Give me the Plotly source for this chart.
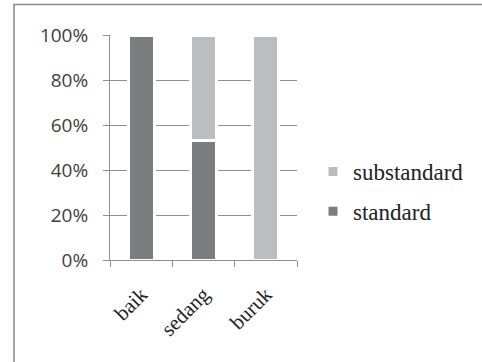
import plotly.graph_objects as go

categories = ["baik", "sedang", "buruk"]
standard = [1.00, 0.53, 0.00]
substandard = [0.00, 0.47, 1.00]

W, H = 482, 362
L, R, T, B = 110, 185, 35, 102
pw, ph = W - L - R, H - T - B

axis_grey = "#8f8f8f"
dark_bar = "#7b7d81"
light_bar = "#bcbdc0"

fig = go.Figure()
fig.add_trace(go.Bar(
    x=categories, y=standard, name="standard",
    legendgroup="g2", legendrank=2,
    marker=dict(color=dark_bar, line=dict(color="white", width=3)),
    width=0.42,
))
fig.add_trace(go.Bar(
    x=categories, y=substandard, name="substandard",
    legendgroup="g1", legendrank=1,
    marker=dict(color=light_bar, line=dict(color="white", width=3)),
    width=0.42,
))

# outer frame (only left and top edges fall inside the page)
fig.add_shape(
    type="rect", xref="paper", yref="paper",
    x0=(14 - L) / pw, x1=(W + 10 - L) / pw,
    y0=(H - B - (H + 10)) / ph, y1=(H - B - 4.5) / ph,
    line=dict(color="#8a8a8a", width=1.5), fillcolor="rgba(0,0,0,0)",
    layer="below",
)

fig.update_layout(
    width=W, height=H,
    margin=dict(l=L, r=R, t=T, b=B),
    paper_bgcolor="white", plot_bgcolor="white",
    barmode="stack",
    showlegend=True,
    legend=dict(
        x=(313 - L) / pw, y=(H - B - 150) / ph, xanchor="left", yanchor="top",
        traceorder="grouped", itemwidth=30,
        font=dict(family="Liberation Serif", size=23, color="#222222"),
        bgcolor="rgba(0,0,0,0)",
        tracegroupgap=7,
    ),
    xaxis=dict(
        type="category", range=[-0.5, 2.5],
        showline=True, linecolor=axis_grey, linewidth=1,
        ticks="outside", tickson="boundaries", ticklen=6, tickcolor=axis_grey,
        tickangle=-45, ticklabelstandoff=13,
        tickfont=dict(family="Liberation Serif", size=21, color="#222222"),
        showgrid=False,
    ),
    yaxis=dict(
        range=[0, 1], dtick=0.2, tickformat=".0%",
        showline=True, linecolor=axis_grey, linewidth=1,
        ticks="outside", ticklen=6, tickcolor=axis_grey,
        ticklabelstandoff=11,
        showgrid=True, gridcolor=axis_grey, gridwidth=1,
        zeroline=False,
        tickfont=dict(family="Open Sans", size=19, color="#404040"),
    ),
)

fig.write_html("out.html")
